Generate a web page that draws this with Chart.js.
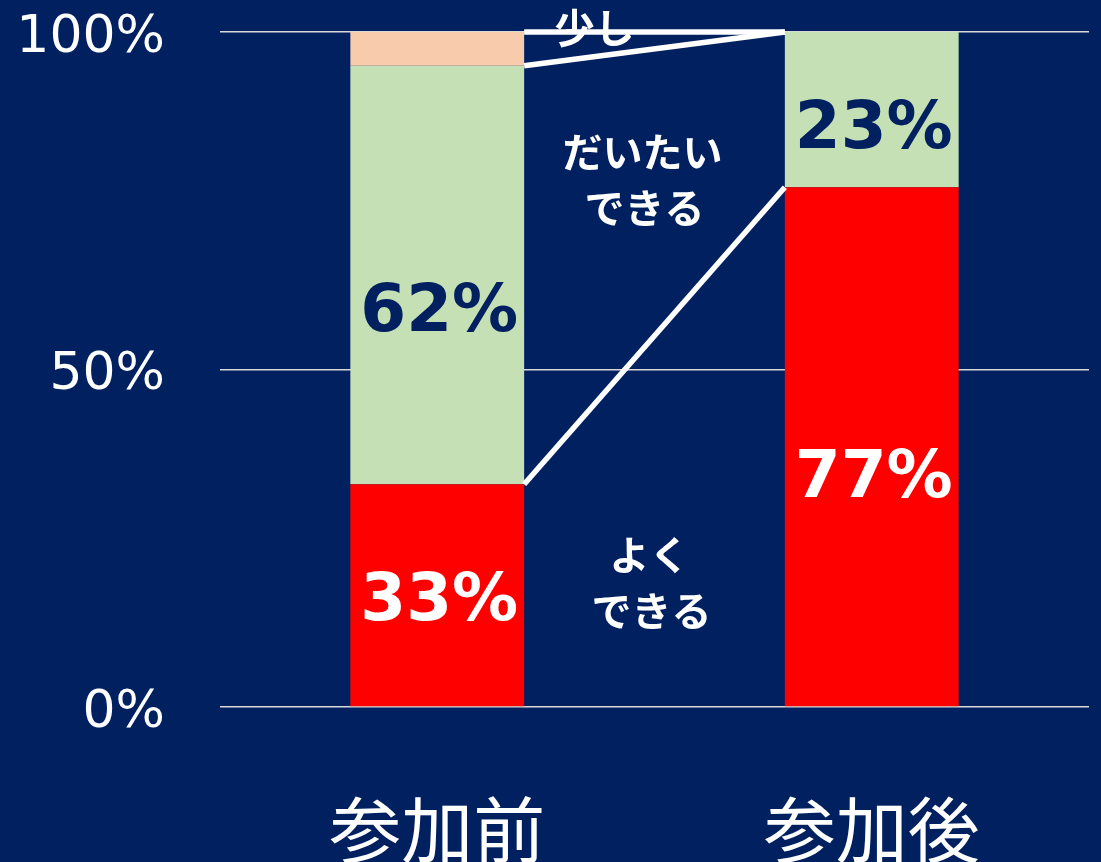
<!DOCTYPE html>
<html>
<head>
<meta charset="utf-8">
<script src="https://cdn.jsdelivr.net/npm/chart.js@4"></script>
<style>
  html, body { margin: 0; padding: 0; background: #002060; }
  #chart { display: block; }
</style>
</head>
<body>
<canvas id="chart" width="1101" height="862"></canvas>
<script>
var categories = ['参加前', '参加後'];
var seriesNames = ['よくできる', 'だいたいできる', '少し'];
var yoku = [33, 77];
var daitai = [62, 23];
var sukoshi = [5, 0];
var yTicks = [0, 50, 100];

var navy = '#002060';

// 系列線 (series lines) between the two bars
var seriesLines = {
    id: 'seriesLines',
    beforeDraw: function(chart) {
        var ctx = chart.ctx;
        ctx.save();
        ctx.fillStyle = navy;
        ctx.fillRect(0, 0, chart.width, chart.height);
        ctx.restore();
    },
    afterDatasetsDraw: function(chart) {
        var ctx = chart.ctx;
        var x = chart.scales.x;
        var mid = (x.getPixelForValue(0) + x.getPixelForValue(1)) / 2;
        var top = chart.chartArea.top;

        // category notes
        ctx.save();
        ctx.fillStyle = '#ffffff';
        ctx.textAlign = 'center';
        ctx.textBaseline = 'middle';
        ctx.font = 'bold 40px "Noto Sans CJK JP"';
        ctx.fillText('少し', mid - 60, top - 4);
        ctx.fillText('だいたい', mid - 12, top + 120);
        ctx.fillText('できる', mid - 10, top + 176);
        ctx.fillText('よく', mid - 5, top + 523);
        ctx.fillText('できる', mid - 3, top + 579);
        ctx.restore();

        ctx.save();
        ctx.strokeStyle = '#ffffff';
        ctx.lineWidth = 5.5;
        chart.data.datasets.forEach(function(ds, i) {
            var bars = chart.getDatasetMeta(i).data;
            var a = bars[0], b = bars[1];
            ctx.beginPath();
            ctx.moveTo(a.x + a.width / 2, a.y);
            ctx.lineTo(b.x - b.width / 2, b.y);
            ctx.stroke();
        });
        ctx.restore();

        // value labels
        var labelColors = ['#ffffff', navy];
        var shift = [[8, 33], [39, 21]];
        ctx.save();
        ctx.textAlign = 'center';
        ctx.textBaseline = 'middle';
        ctx.font = 'bold 66px "DejaVu Sans"';
        [0, 1].forEach(function(i) {
            var bars = chart.getDatasetMeta(i).data;
            bars.forEach(function(bar, j) {
                var v = chart.data.datasets[i].data[j];
                if (!v) return;
                var cy = (bar.y + bar.base) / 2 + shift[i][j];
                ctx.fillStyle = labelColors[i];
                ctx.fillText(v + '%', bar.x + 2, cy);
            });
        });
        ctx.restore();
    }
};

new Chart(document.getElementById('chart'), {
    type: 'bar',
    data: {
        labels: categories,
        datasets: [
            { label: seriesNames[0], data: yoku, backgroundColor: '#ff0000' },
            { label: seriesNames[1], data: daitai, backgroundColor: '#c5e0b4' },
            { label: seriesNames[2], data: sukoshi, backgroundColor: '#f8cbad' }
        ]
    },
    options: {
        responsive: false,
        animation: false,
        barPercentage: 0.4,
        categoryPercentage: 1.0,
        layout: { padding: { top: 32, right: 12, left: 0, bottom: 0 } },
        plugins: {
            legend: { display: false },
            tooltip: { enabled: false }
        },
        scales: {
            x: {
                stacked: true,
                grid: { display: false },
                border: { display: false },
                ticks: {
                    color: '#ffffff',
                    padding: 71,
                    font: { family: '"Noto Sans CJK JP"', size: 72 }
                },
                afterFit: function(scale) { scale.height = 155; }
            },
            y: {
                stacked: true,
                min: 0,
                max: 100,
                afterBuildTicks: function(scale) {
                    scale.ticks = yTicks.map(function(v) { return { value: v }; });
                },
                ticks: {
                    color: '#ffffff',
                    padding: 55,
                    labelOffset: 6,
                    font: { family: '"DejaVu Sans"', size: 52 },
                    callback: function(v) { return v + '%'; }
                },
                grid: { color: '#d9d9d9', lineWidth: 1.5, drawTicks: false },
                border: { display: false },
                afterFit: function(scale) {
                    scale.width = 220;
                    scale.paddingTop = 0;
                    scale.paddingBottom = 0;
                }
            }
        }
    },
    plugins: [seriesLines]
});
</script>
</body>
</html>
